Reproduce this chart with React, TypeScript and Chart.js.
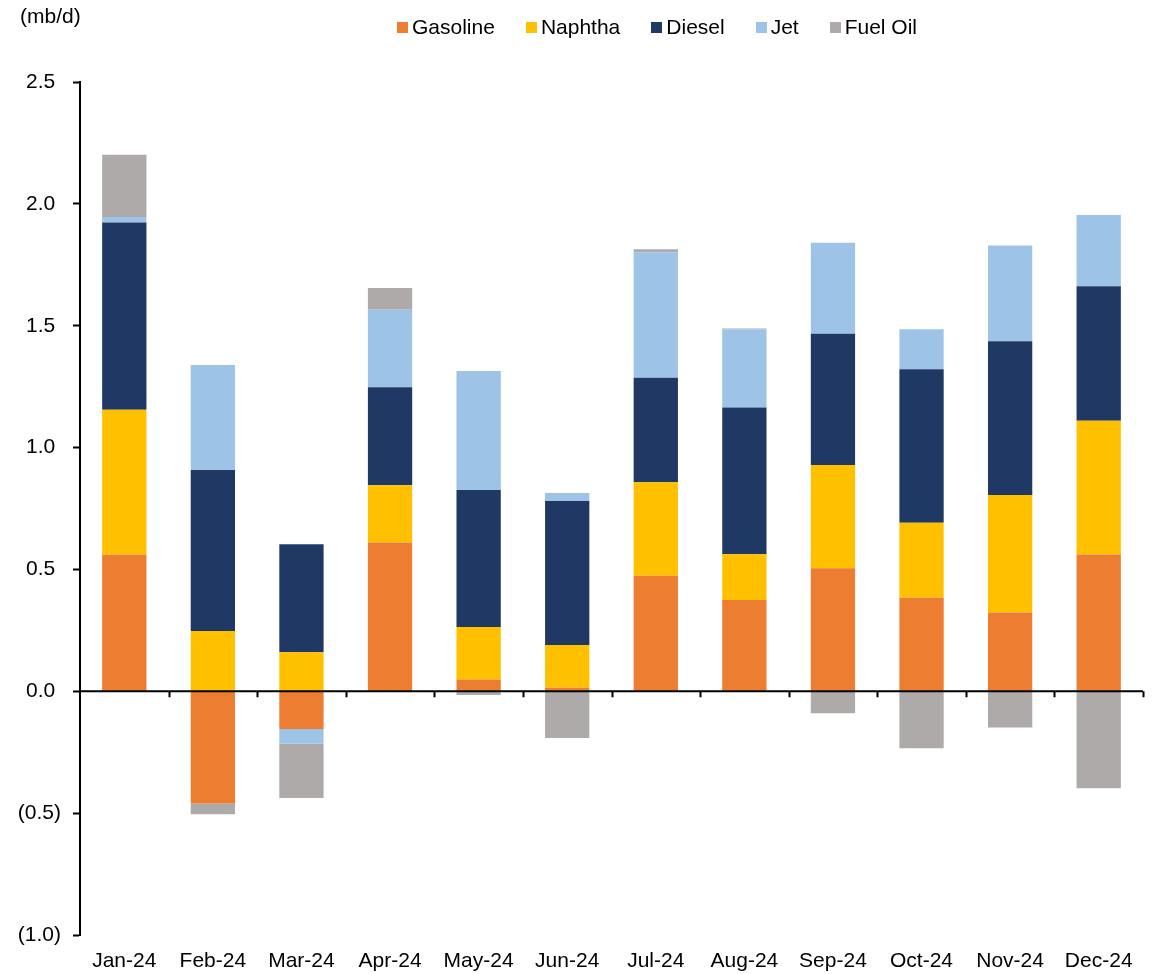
import React, { useEffect, useRef } from "react";
import { Chart, registerables } from "chart.js";

Chart.register(...registerables);

// Monthly product contributions (mb/d)
const months = ["Jan-24", "Feb-24", "Mar-24", "Apr-24", "May-24", "Jun-24", "Jul-24", "Aug-24", "Sep-24", "Oct-24", "Nov-24", "Dec-24"];
const gasoline = [0.56, -0.46, -0.155, 0.61, 0.048, 0.015, 0.474, 0.375, 0.505, 0.384, 0.323, 0.561];
const naphtha = [0.595, 0.247, 0.16, 0.235, 0.216, 0.175, 0.384, 0.187, 0.424, 0.308, 0.482, 0.549];
const diesel = [0.768, 0.661, 0.443, 0.402, 0.562, 0.591, 0.429, 0.602, 0.538, 0.629, 0.631, 0.552];
const jet = [0.023, 0.431, -0.06, 0.319, 0.488, 0.033, 0.514, 0.321, 0.373, 0.164, 0.393, 0.292];
const fuelOil = [0.256, -0.045, -0.223, 0.089, -0.015, -0.192, 0.013, 0.004, -0.09, -0.234, -0.149, -0.398];

const seriesNames = ["Gasoline", "Naphtha", "Diesel", "Jet", "Fuel Oil"];
const seriesColors = ["#ED7D31", "#FFC000", "#203864", "#9DC3E6", "#AEAAAA"];
const seriesValues = [gasoline, naphtha, diesel, jet, fuelOil];

const yMin = -1.0;
const yMax = 2.5;
const yStep = 0.5;

const FONT = "'Liberation Sans', Arial, Helvetica, sans-serif";
const FONT_SIZE = 21;

// Zero line with small downward ticks at category boundaries
const zeroLinePlugin = {
  id: "zeroLine",
  afterDatasetsDraw(chart: any) {
    const { ctx, chartArea, scales } = chart;
    const y = scales.y.getPixelForValue(0);
    const n = chart.data.labels.length;
    const w = (chartArea.right - chartArea.left) / n;
    ctx.save();
    ctx.strokeStyle = "#000";
    ctx.lineWidth = 2;
    ctx.beginPath();
    ctx.moveTo(chartArea.left, y);
    ctx.lineTo(chartArea.right, y);
    for (let i = 1; i <= n; i++) {
      const x = Math.round(chartArea.left + i * w) + 0.5;
      ctx.moveTo(x, y);
      ctx.lineTo(x, y + 6);
    }
    ctx.stroke();
    ctx.restore();
  },
};

function formatTick(v: number) {
  if (Math.abs(v) < 1e-9) return "0.0 ";
  if (v < 0) return "(" + Math.abs(v).toFixed(1) + ")";
  return v.toFixed(1) + " ";
}

export default function App() {
  const canvasRef = useRef<HTMLCanvasElement | null>(null);

  useEffect(() => {
    if (!canvasRef.current) return;
    const chart = new Chart(canvasRef.current, {
      type: "bar",
      data: {
        labels: months,
        datasets: seriesNames.map((name, i) => ({
          label: name,
          data: seriesValues[i],
          backgroundColor: seriesColors[i],
          borderWidth: 0,
          categoryPercentage: 1,
          barPercentage: 0.5,
        })),
      },
      options: {
        animation: false,
        responsive: false,
        maintainAspectRatio: false,
        devicePixelRatio: 1,
        layout: { padding: { top: 82, right: 9, bottom: 0, left: 0 } },
        plugins: {
          legend: { display: false },
          tooltip: { enabled: false },
          title: { display: false },
        },
        scales: {
          x: {
            stacked: true,
            grid: { display: false, drawTicks: false },
            border: { display: false },
            ticks: {
              color: "#000",
              font: { family: FONT, size: FONT_SIZE },
              padding: 14,
              maxRotation: 0,
              autoSkip: false,
            },
            afterFit(scale: any) {
              scale.height = 39;
            },
          },
          y: {
            stacked: true,
            min: yMin,
            max: yMax,
            ticks: {
              stepSize: yStep,
              color: "#000",
              font: { family: FONT, size: FONT_SIZE },
              padding: 12,
              callback: (v: any) => formatTick(Number(v)),
            },
            grid: {
              drawOnChartArea: false,
              drawTicks: true,
              tickLength: 7,
              tickColor: "#000",
              tickWidth: 2,
            },
            border: { display: true, color: "#000", width: 2 },
            afterFit(scale: any) {
              scale.width = 80;
            },
          },
        },
      },
      plugins: [zeroLinePlugin],
    });
    return () => chart.destroy();
  }, []);

  return (
    <div style={{ position: "relative", width: 1152, height: 974, fontFamily: FONT, color: "#000" }}>
      <style>{`body{margin:0;}`}</style>
      <canvas ref={canvasRef} width={1152} height={974} style={{ position: "absolute", left: 0, top: 0 }} />
      <div style={{ position: "absolute", left: 20, top: 4, fontSize: FONT_SIZE, lineHeight: "24px" }}>(mb/d)</div>
      <div
        style={{
          position: "absolute",
          left: 397,
          top: 15,
          display: "flex",
          alignItems: "center",
          gap: 31,
          fontSize: FONT_SIZE,
          lineHeight: "24px",
        }}
      >
        {seriesNames.map((name, i) => (
          <div key={name} style={{ display: "flex", alignItems: "center" }}>
            <span style={{ display: "inline-block", width: 11, height: 11, background: seriesColors[i], marginRight: 4 }} />
            <span>{name}</span>
          </div>
        ))}
      </div>
    </div>
  );
}
